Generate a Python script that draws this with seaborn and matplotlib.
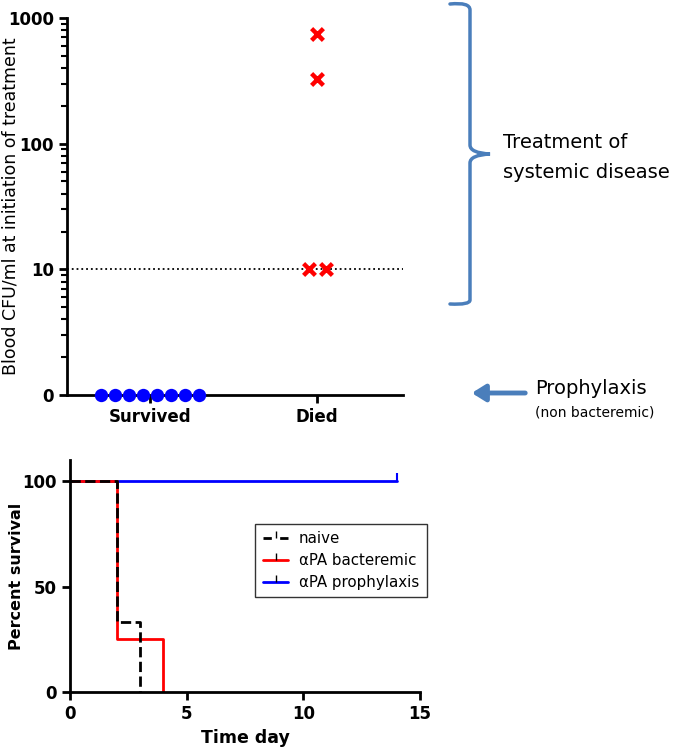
import numpy as np
import pandas as pd
import matplotlib
matplotlib.use('Agg')
from matplotlib import pyplot as plt
from matplotlib.lines import Line2D
from matplotlib.path import Path
from matplotlib.patches import PathPatch, FancyArrowPatch
import seaborn as sns

# top panel: blood CFU/ml at initiation of treatment
survived_cfu = [0, 0, 0, 0, 0, 0, 0, 0]
died_cfu = [750, 330, 10, 10]
groups = ['Survived', 'Died']
cfu_ticks = [1, 10, 100, 1000]
cfu_tick_labels = ['0', '10', '100', '1000']

# bottom panel: Kaplan-Meier survival
naive_t = [0, 2, 3]
naive_s = [100, 33.3, 0]
bact_t = [0, 2, 4]
bact_s = [100, 25, 0]
proph_t = [0, 14]
proph_s = [100, 100]

sns.set_style('ticks', {'text.color': 'black', 'axes.labelcolor': 'black',
                        'xtick.color': 'black', 'ytick.color': 'black'})
plt.rcParams['font.family'] = ['DejaVu Sans']

W, H = 680, 748
fig = plt.figure(figsize=(6.8, 7.48), dpi=100)

def fx(px):
    return px / W

def fy(py):
    return 1 - py / H

# ---- top panel ----
ax1 = fig.add_axes([fx(67), fy(395), fx(403) - fx(67), fy(18) - fy(395)])
ax1.set_yscale('log')

# zero values sit on the axis floor (labelled "0")
surv = pd.DataFrame({'group': 'Survived',
                     'cfu': np.where(np.array(survived_cfu) == 0, 1, survived_cfu)})
died = pd.DataFrame({'group': 'Died', 'cfu': died_cfu})

ax1.axhline(10, ls=':', color='black', lw=1.3, zorder=1)
sns.swarmplot(data=surv, x='group', y='cfu', order=groups, color='#0000ff',
              size=9.6, ax=ax1, clip_on=False, zorder=3)
sns.swarmplot(data=died, x='group', y='cfu', order=groups, color='#ff0000',
              marker='x', linewidth=3.2, size=8.5, ax=ax1, zorder=3)

ax1.set_ylim(1, 1000)
ax1.set_xlim(-0.5, 1.515)
ax1.set_yticks(cfu_ticks)
ax1.set_yticklabels(cfu_tick_labels)
ax1.set_xlabel('')
ax1.set_ylabel('Blood CFU/ml at initiation of treatment', fontsize=12.5)
ax1.yaxis.set_label_coords(-0.14, 0.5)
for lab in ax1.get_xticklabels() + ax1.get_yticklabels():
    lab.set_fontweight('bold')
    lab.set_fontsize(12)
ax1.tick_params(axis='both', which='major', width=2, length=6, color='black')
ax1.tick_params(axis='y', which='minor', width=1.5, length=4, color='black')
sns.despine(ax=ax1)
for s in ['left', 'bottom']:
    ax1.spines[s].set_linewidth(2)
    ax1.spines[s].set_color('black')

# annotations: brace and arrow
blue = '#4a7ebb'
verts = [(450, 4), (470, 2), (470, 10), (470, 30),
         (470, 145), (470, 153), (490, 154),
         (470, 155), (470, 163), (470, 280),
         (470, 300), (470, 305), (450, 304)]
codes = [Path.MOVETO, Path.CURVE3, Path.CURVE3, Path.LINETO,
         Path.LINETO, Path.CURVE3, Path.CURVE3,
         Path.CURVE3, Path.CURVE3, Path.LINETO,
         Path.LINETO, Path.CURVE3, Path.CURVE3]
brace = Path([(fx(x), fy(y)) for x, y in verts], codes)
fig.patches.append(PathPatch(brace, transform=fig.transFigure, fill=False,
                             edgecolor=blue, lw=2.5, capstyle='round'))
fig.text(fx(503), fy(142), 'Treatment of', fontsize=14, va='center', ha='left')
fig.text(fx(503), fy(173), 'systemic disease', fontsize=14, va='center', ha='left')

fig.patches.append(FancyArrowPatch(
    (fx(528), fy(393)), (fx(469), fy(393)), transform=fig.transFigure,
    arrowstyle='-|>,head_length=8,head_width=5', color=blue, lw=3.5))
fig.text(fx(535), fy(388), 'Prophylaxis', fontsize=14, va='center', ha='left')
fig.text(fx(535), fy(412), '(non bacteremic)', fontsize=10, va='center', ha='left')

# ---- bottom panel ----
ax2 = fig.add_axes([fx(70), fy(692), fx(420) - fx(70), fy(460) - fy(692)])

sns.lineplot(x=proph_t, y=proph_s, color='#0000ff', lw=2, drawstyle='steps-post',
             estimator=None, sort=False, ax=ax2)
ax2.plot(proph_t[-1:], proph_s[-1:], marker=2, color='#0000ff', ms=6, mew=1.5,
         ls='none')
sns.lineplot(x=bact_t, y=bact_s, color='#ff0000', lw=2, drawstyle='steps-post',
             estimator=None, sort=False, ax=ax2)
sns.lineplot(x=naive_t, y=naive_s, color='black', lw=2, ls='--', dashes=(3, 3),
             drawstyle='steps-post', estimator=None, sort=False, ax=ax2)

ax2.set_xlim(0, 15)
ax2.set_ylim(0, 110)
ax2.set_xticks([0, 5, 10, 15])
ax2.set_yticks([0, 50, 100])
ax2.set_xlabel('Time day', fontsize=12.5, fontweight='bold')
ax2.set_ylabel('Percent survival', fontsize=11.5, fontweight='bold')
ax2.yaxis.set_label_coords(-0.13, 0.5)
for lab in ax2.get_xticklabels() + ax2.get_yticklabels():
    lab.set_fontweight('bold')
    lab.set_fontsize(12)
ax2.tick_params(axis='both', width=2, length=6, color='black')
sns.despine(ax=ax2)
for s in ['left', 'bottom']:
    ax2.spines[s].set_linewidth(2)
    ax2.spines[s].set_color('black')

handles = [
    Line2D([], [], color='black', lw=2, ls='--', dashes=(3, 3), marker=2, ms=5),
    Line2D([], [], color='#ff0000', lw=2, marker=2, ms=5, mec='black'),
    Line2D([], [], color='#0000ff', lw=2, marker=2, ms=5, mec='black'),
]
leg = ax2.legend(handles, ['naive', '\u03b1PA bacteremic', '\u03b1PA prophylaxis'],
                 loc='upper left', bbox_to_anchor=(0.508, 0.757), frameon=True,
                 fancybox=False, edgecolor='black', fontsize=10.8, handlelength=1.7,
                 borderpad=0.5, labelspacing=0.45, handletextpad=0.7)
leg.get_frame().set_linewidth(1)

# let seaborn lay out the swarms once, then centre each row on its category
fig.canvas.draw()
for coll in ax1.collections:
    off = np.asarray(coll.get_offsets(), dtype=float).copy()
    if len(off) == 0:
        continue
    if 'draw' in coll.__dict__:
        del coll.draw
    centre = np.round(off[:, 0].mean())
    for yv in np.unique(off[:, 1]):
        m = off[:, 1] == yv
        off[m, 0] += centre - off[m, 0].mean()
    coll.set_offsets(off)

fig.savefig('out.png', dpi=100)
